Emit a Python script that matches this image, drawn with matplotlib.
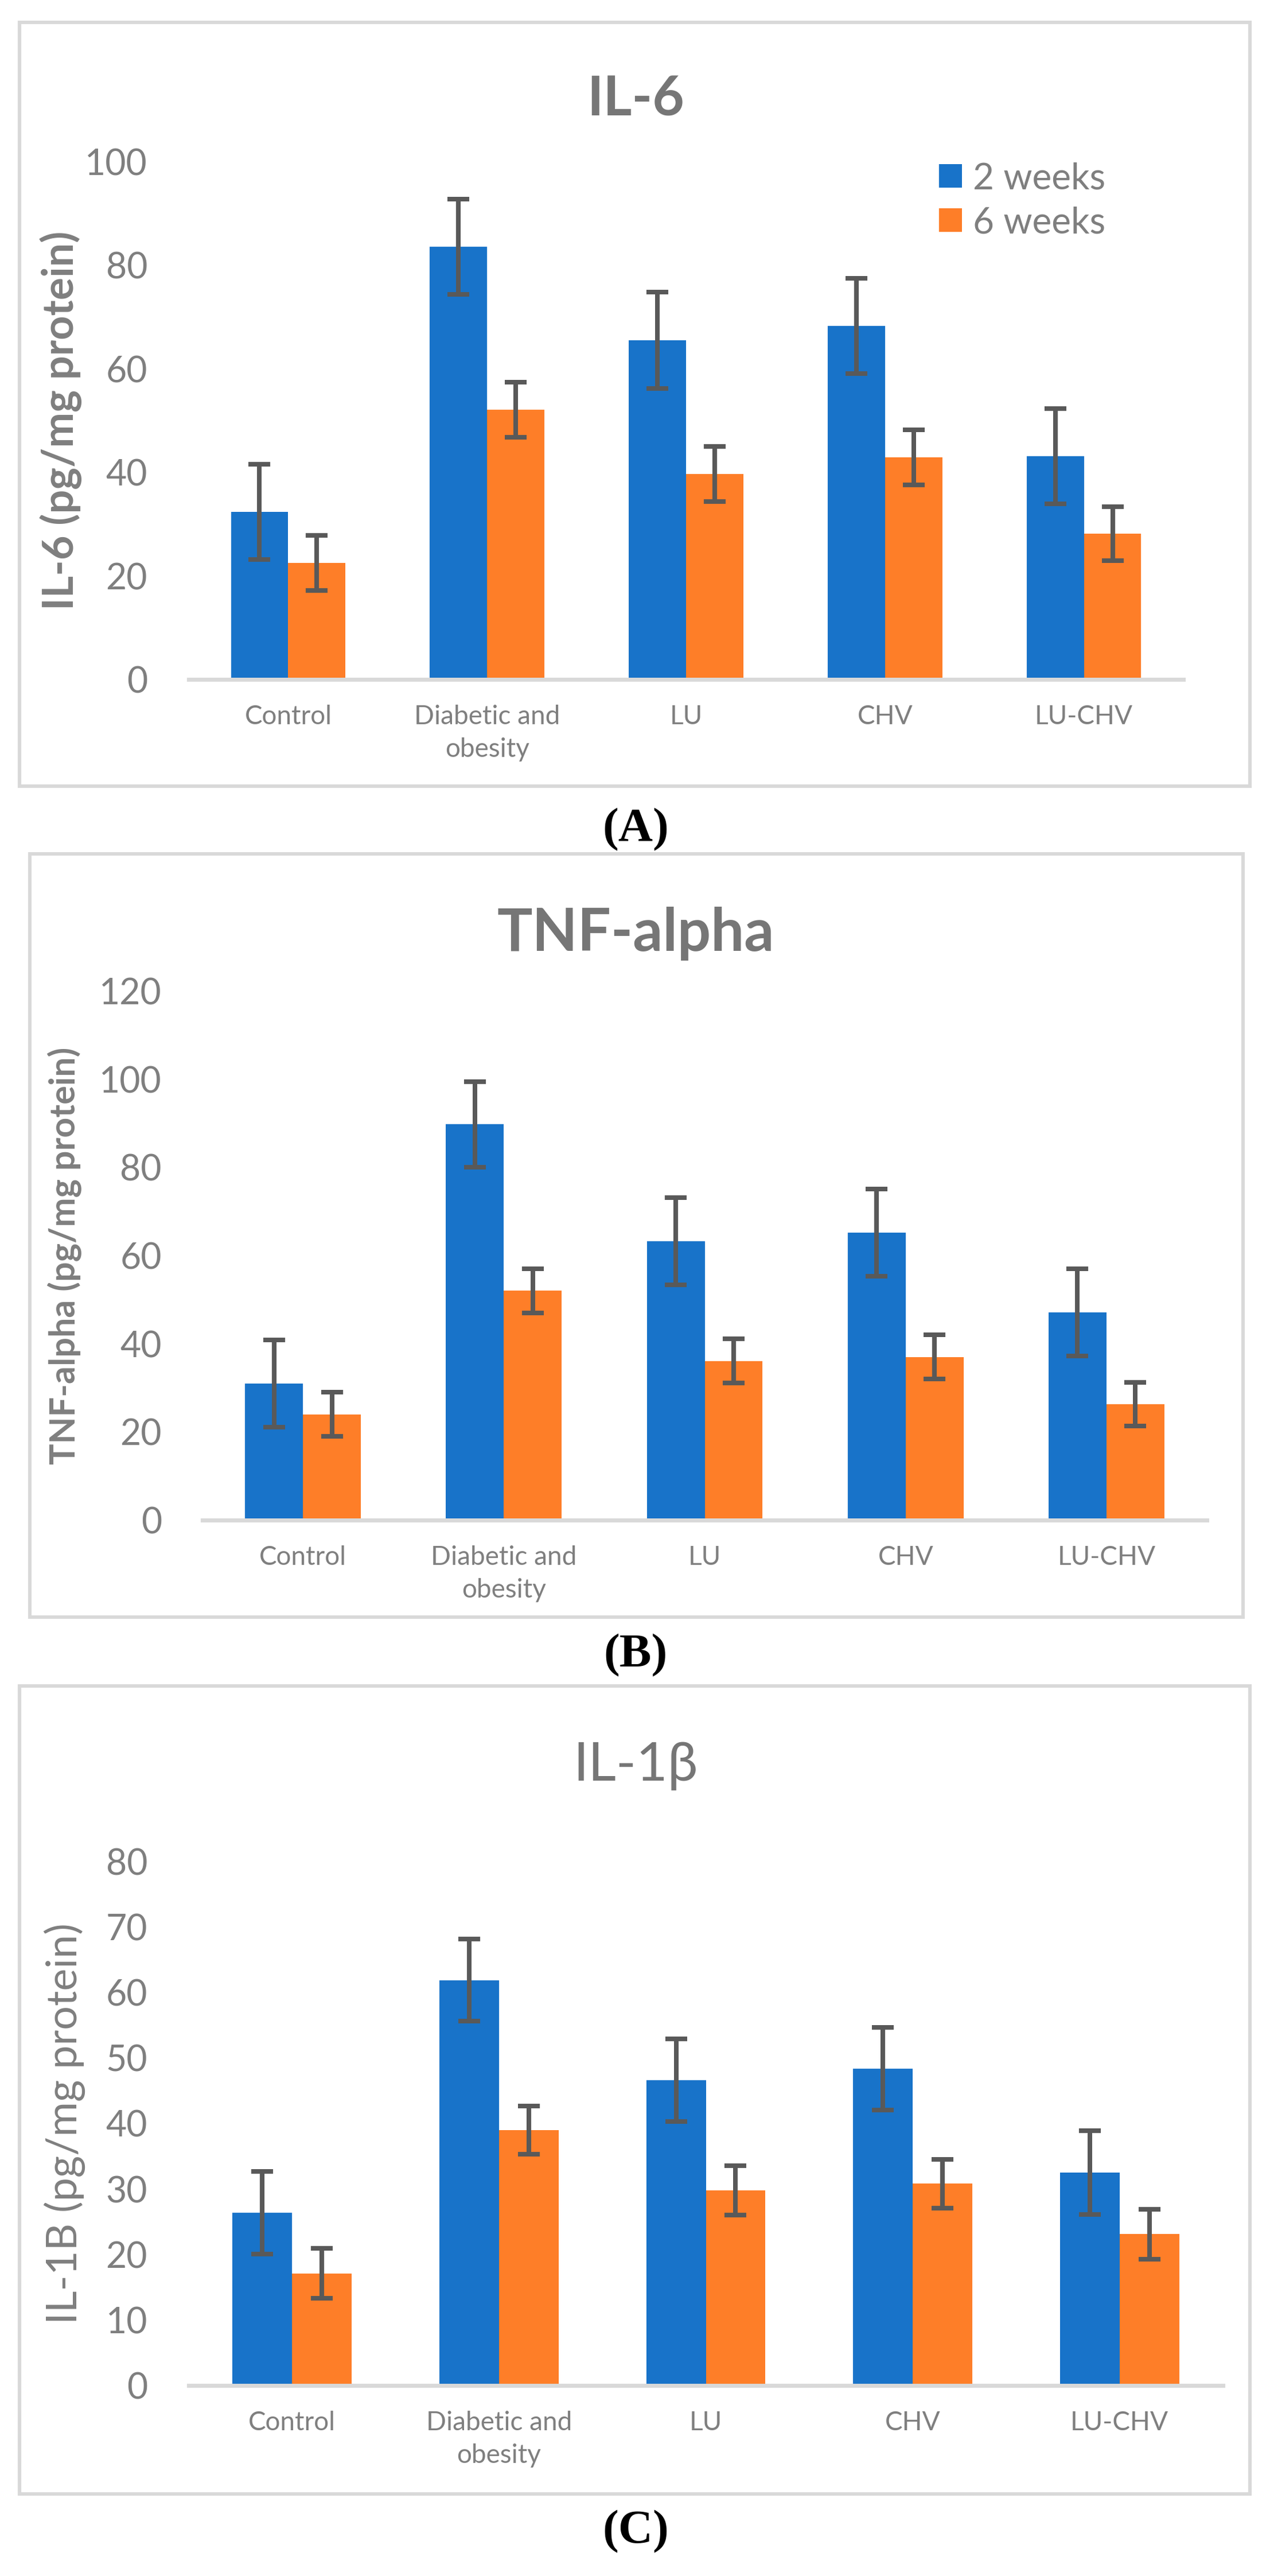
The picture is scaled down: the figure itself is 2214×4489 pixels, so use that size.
import numpy as np
import matplotlib
matplotlib.use("Agg")
import matplotlib.pyplot as plt
from matplotlib.patches import Rectangle
from matplotlib import font_manager

# ---------------- data ----------------
categories = ['Control', 'Diabetic and\nobesity', 'LU', 'CHV', 'LU-CHV']
series_labels = ['2 weeks', '6 weeks']

il6_2w = [32.4, 83.6, 65.5, 68.3, 43.1]
il6_2w_err = [9.2, 9.2, 9.3, 9.2, 9.2]
il6_6w = [22.5, 52.1, 39.7, 42.9, 28.2]
il6_6w_err = [5.3, 5.3, 5.3, 5.3, 5.2]

tnf_2w = [31.0, 89.8, 63.2, 65.2, 47.1]
tnf_2w_err = [9.9, 9.7, 9.9, 9.9, 9.9]
tnf_6w = [24.0, 52.0, 36.1, 37.0, 26.3]
tnf_6w_err = [5.0, 5.0, 5.0, 5.0, 5.0]

il1b_2w = [26.4, 61.9, 46.6, 48.4, 32.5]
il1b_2w_err = [6.3, 6.3, 6.3, 6.3, 6.4]
il1b_6w = [17.1, 39.0, 29.8, 30.8, 23.1]
il1b_6w_err = [3.8, 3.7, 3.8, 3.7, 3.8]

il6_ticks = [0, 20, 40, 60, 80, 100]
tnf_ticks = [0, 20, 40, 60, 80, 100, 120]
il1b_ticks = [0, 10, 20, 30, 40, 50, 60, 70, 80]

# ---------------- style ----------------
W, H, DPI = 2214, 4489, 100
PX = 72.0 / DPI  # points per pixel

avail = {f.name for f in font_manager.fontManager.ttflist}
sans = [f for f in ['Lato', 'Open Sans', 'DejaVu Sans'] if f in avail] or ['DejaVu Sans']
serif = [f for f in ['Liberation Serif', 'DejaVu Serif'] if f in avail] or ['DejaVu Serif']
plt.rcParams['font.family'] = sans

BLUE = '#1873C9'
ORANGE = '#FE7E28'
GRAY = '#7F7F7F'
ERR = '#595959'
LINE = '#D9D9D9'

fig = plt.figure(figsize=(W / DPI, H / DPI), dpi=DPI)
fig.patch.set_facecolor('white')


def fx(x):
    return x / W


def fy(y):
    return 1 - y / H


def frame(x0, y0, x1, y1):
    fig.add_artist(Rectangle((fx(x0), fy(y1)), fx(x1) - fx(x0), fy(y0) - fy(y1),
                             transform=fig.transFigure, fill=False,
                             edgecolor=LINE, linewidth=6 * PX, zorder=0))


def panel(x0, x1, ytop, ybot, ymax, ticks, v2, e2, v6, e6, tick_right):
    ax = fig.add_axes([fx(x0), fy(ybot), fx(x1) - fx(x0), fy(ytop) - fy(ybot)])
    x = np.arange(len(categories))
    w = 0.288
    ekw = dict(ecolor=ERR, elinewidth=8 * PX, capsize=14, capthick=8 * PX, zorder=3)
    ax.bar(x - w / 2, v2, w, color=BLUE, yerr=e2, error_kw=ekw, label=series_labels[0], zorder=2)
    ax.bar(x + w / 2, v6, w, color=ORANGE, yerr=e6, error_kw=ekw, label=series_labels[1], zorder=2)
    ax.set_xlim(-0.5, len(categories) - 0.5)
    ax.set_ylim(0, ymax)
    ax.set_yticks(ticks)
    ax.set_xticks(x)
    ax.set_xticklabels(categories, linespacing=1.45)
    for s in ['top', 'right', 'left']:
        ax.spines[s].set_visible(False)
    ax.spines['bottom'].set_color(LINE)
    ax.spines['bottom'].set_linewidth(7 * PX)
    ax.spines['bottom'].set_zorder(4)
    ax.tick_params(axis='y', length=0, labelsize=45, labelcolor=GRAY,
                   pad=(x0 - tick_right) * PX)
    ax.tick_params(axis='x', length=0, labelsize=33, labelcolor=GRAY, pad=44 * PX)
    ax.set_facecolor('none')
    return ax


# ---------------- Panel A ----------------
frame(34, 39, 2179, 1370)
axA = panel(329, 2063, 282, 1184, 100, il6_ticks, il6_2w, il6_2w_err, il6_6w, il6_6w_err, 257)
fig.text(fx(1108), fy(174), 'IL-6', ha='center', va='center', fontsize=69,
         fontweight='bold', color='#767676')
fig.text(fx(106), fy(733), 'IL-6 (pg/mg protein)', ha='center', va='center',
         rotation=90, fontsize=53, fontweight='bold', color=GRAY)
leg = axA.legend(loc='upper left', bbox_to_anchor=(fx(1637), fy(282)),
                 bbox_transform=fig.transFigure, frameon=False, fontsize=46,
                 handlelength=0.62, handleheight=0.62, handletextpad=0.3,
                 labelspacing=0.3, borderpad=0, borderaxespad=0, labelcolor=GRAY)
fig.text(fx(1108), fy(1446), '(A)', ha='center', va='center', fontsize=60,
         fontweight='bold', family=serif, color='black')

# ---------------- Panel B ----------------
frame(52, 1488, 2167, 2818)
axB = panel(353, 2104, 1727, 2649, 120, tnf_ticks, tnf_2w, tnf_2w_err, tnf_6w, tnf_6w_err, 282)
fig.text(fx(1108), fy(1627), 'TNF-alpha', ha='center', va='center', fontsize=74,
         fontweight='bold', color='#767676')
fig.text(fx(113), fy(2188), 'TNF-alpha (pg/mg protein)', ha='center', va='center',
         rotation=90, fontsize=44, fontweight='bold', color=GRAY)
fig.text(fx(1108), fy(2885), '(B)', ha='center', va='center', fontsize=60,
         fontweight='bold', family=serif, color='black')

# ---------------- Panel C ----------------
frame(34, 2938, 2179, 4346)
axC = panel(329, 2132, 3244, 4157, 80, il1b_ticks, il1b_2w, il1b_2w_err, il1b_6w, il1b_6w_err, 257)
fig.text(fx(1108), fy(3078), 'IL-1β', ha='center', va='center', fontsize=68,
         color='#767676', family=sans + ['DejaVu Sans'])
fig.text(fx(113), fy(3700), 'IL-1B (pg/mg protein)', ha='center', va='center',
         rotation=90, fontsize=53, color=GRAY)
fig.text(fx(1108), fy(4412), '(C)', ha='center', va='center', fontsize=60,
         fontweight='bold', family=serif, color='black')

fig.savefig('out.png', dpi=DPI, facecolor='white')
